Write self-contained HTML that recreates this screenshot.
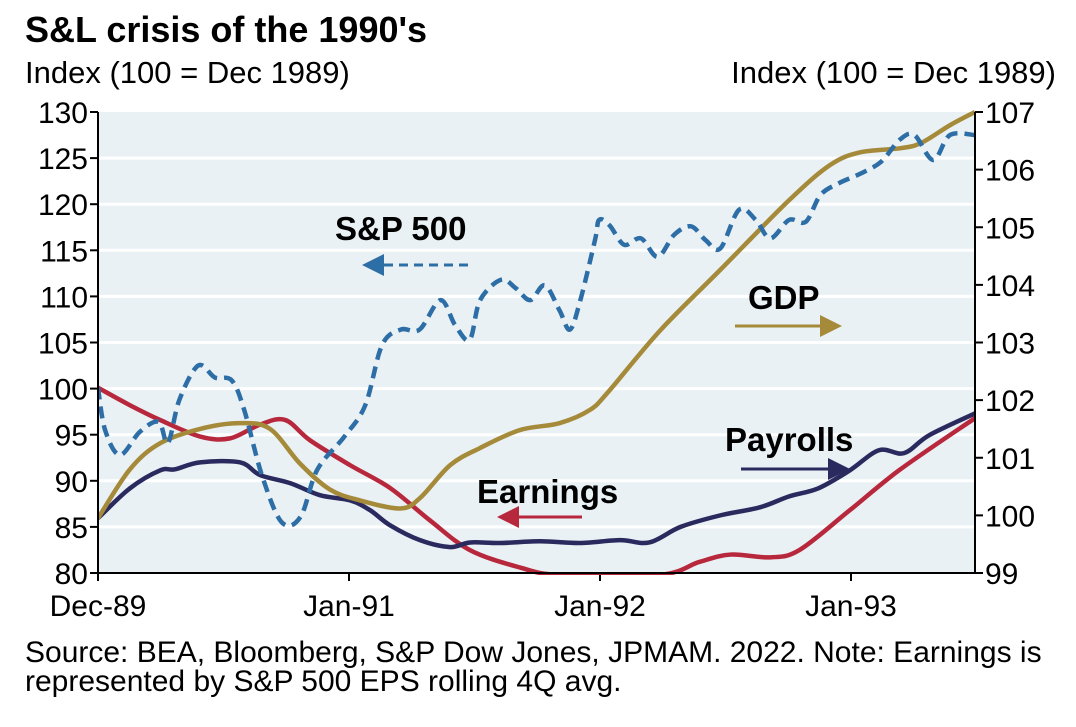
<!DOCTYPE html>
<html><head><meta charset="utf-8"><style>
body{margin:0;background:#fff;width:1076px;height:722px;overflow:hidden;font-family:"Liberation Sans",Arial,sans-serif}
svg text{font-family:"Liberation Sans",Arial,sans-serif}
</style></head><body>
<svg id="c" width="1076" height="722">
<text x="25" y="42" font-size="36" font-weight="bold">S&amp;L crisis of the 1990's</text>
<text x="25" y="83" font-size="31">Index (100 = Dec 1989)</text>
<text x="1056" y="83" font-size="31" text-anchor="end">Index (100 = Dec 1989)</text>
<text x="25" y="662" font-size="30">Source: BEA, Bloomberg, S&amp;P Dow Jones, JPMAM. 2022. Note: Earnings is</text>
<text x="25" y="691" font-size="30">represented by S&amp;P 500 EPS rolling 4Q avg.</text>
<defs><clipPath id="pc"><rect x="98" y="110" width="877" height="465"/></clipPath></defs>
<g id="plot"></g>
</svg>
<script>
const xTickMonths=[0,13,25,37];
const xTickLabels=["Dec-89","Jan-91","Jan-92","Jan-93"];
const leftTicks=[80,85,90,95,100,105,110,115,120,125,130];
const rightTicks=[99,100,101,102,103,104,105,106,107];
const spM=[0,0.34,1.05,2,2.9,3.35,3.9,4.8,5.6,6.4,7,7.85,8.8,9.7,10.5,11.8,12.8,13.6,14.5,15.4,16.4,17.1,17.8,18.3,19.3,20,20.7,21.4,22.1,22.6,23.1,23.8,24,24.5,25.2,26,26.8,27.6,28.4,29.1,29.8,30.7,31.5,32.2,33.1,33.9,34.6,35.5,36.5,37.5,38.4,39.1,40,40.8,42];
const spV=[100.1,95.5,92.8,95.3,96.4,94.1,98.8,102.5,101.2,100.9,97.7,90.6,85.5,86.1,91.2,94.8,98.2,104.7,106.4,106.4,109.6,106.9,105.3,109.6,111.8,110.9,109.6,111.2,108.5,106.4,109.6,116.1,118.3,117.7,115.6,116.3,114.3,116.7,117.6,116.1,115.2,119.4,118.3,116.3,118.3,118.1,121,122.3,123.3,124.6,127,127.5,124.8,127.5,127.5];
const gdpM=[0,1.53,2.97,4.89,6.8,8.24,9.67,11.1,12.55,14.46,15.42,16.86,18.3,20.2,22.1,23.56,24.5,26.9,29.8,33.1,35.06,36.5,38.4,39.4,40.8,42];
const gdpV=[99.95,100.8,101.25,101.5,101.6,101.5,100.9,100.45,100.26,100.12,100.3,100.87,101.17,101.48,101.6,101.83,102.17,103.2,104.26,105.47,106.08,106.3,106.37,106.46,106.77,107];
const payM=[0,1.53,2.97,3.69,4.89,6.8,7.76,9.2,10.63,12.07,13.03,13.98,15.42,16.86,17.82,19.25,21.17,23.08,25,26.4,27.9,29.8,31.7,33.1,34.5,36,37.4,38.6,39.8,42];
const payV=[99.95,100.47,100.78,100.8,100.92,100.92,100.7,100.56,100.35,100.26,100.09,99.83,99.57,99.45,99.53,99.52,99.55,99.52,99.57,99.53,99.8,100,100.14,100.33,100.47,100.78,101.13,101.08,101.39,101.77];
const earnM=[0,1.53,2.97,4.89,6.32,7.76,8.96,10.15,12.07,14,15.9,17.8,20.2,22.1,26.9,28.8,30.3,32.2,33.6,36,38.4,42];
const earnV=[100.1,98.2,96.6,94.8,94.6,96.1,96.6,94.4,91.7,89.2,85.7,82.5,80.6,79.8,79.8,81.2,82,81.7,82.5,86.8,91.2,96.8];

const L=98,R=975,T=112,B=573,NS="http://www.w3.org/2000/svg";
const x=m=>L+(m/42)*(R-L);
const yl=v=>B-(v-80)/50*(B-T);
const yr=v=>B-(v-99)/8*(B-T);
const g=document.getElementById('plot');
function el(t,a,p){const e=document.createElementNS(NS,t);for(const k in a)e.setAttribute(k,a[k]);(p||g).appendChild(e);return e;}
const bg=el('rect',{x:L,y:T,width:R-L,height:B-T,fill:'#e9f1f5'});


leftTicks.forEach(v=>{
 if(v>80&&v<130){const gl=el('line',{x1:L,x2:R,y1:yl(v),y2:yl(v),stroke:'#fff','stroke-width':3});
 
 }
 const tk=el('line',{x1:L-8,x2:L,y1:yl(v),y2:yl(v),stroke:'#000','stroke-width':2});
 
 
 const t=el('text',{x:L-10,y:yl(v)+11,'font-size':30,'text-anchor':'end'});t.textContent=v;
 
 
});
rightTicks.forEach(v=>{
 const tk=el('line',{x1:R,x2:R+8,y1:yr(v),y2:yr(v),stroke:'#000','stroke-width':2});
 
 
 const t=el('text',{x:R+10,y:yr(v)+11,'font-size':30});t.textContent=v;
 
 
});
xTickMonths.forEach((m,i)=>{
 const px=L+i*251;
 const tk=el('line',{x1:px,x2:px,y1:B,y2:B+8,stroke:'#000','stroke-width':2});
 
 
 const t=el('text',{x:px,y:B+43,'font-size':30,'text-anchor':'middle'});t.textContent=xTickLabels[i];
 
 
});
function path(ms,vs,yf){
 const p=ms.map((m,i)=>[x(m),yf(vs[i])]);
 let d='M'+p[0][0]+','+p[0][1];
 for(let i=0;i<p.length-1;i++){
  const p0=p[Math.max(0,i-1)],p1=p[i],p2=p[i+1],p3=p[Math.min(p.length-1,i+2)];
  const c1=[p1[0]+(p2[0]-p0[0])/6,p1[1]+(p2[1]-p0[1])/6],c2=[p2[0]-(p3[0]-p1[0])/6,p2[1]-(p3[1]-p1[1])/6];
  d+=`C${c1[0]},${c1[1]} ${c2[0]},${c2[1]} ${p2[0]},${p2[1]}`;
 }
 return d;
}
const pe=el('path',{d:path(earnM,earnV,yl),fill:'none',stroke:'#b8283c','stroke-width':4.5,'clip-path':'url(#pc)'});


const pp=el('path',{d:path(payM,payV,yr),fill:'none',stroke:'#2a2a5e','stroke-width':4.5,'clip-path':'url(#pc)'});


const pg=el('path',{d:path(gdpM,gdpV,yr),fill:'none',stroke:'#a58a3a','stroke-width':4.5,'clip-path':'url(#pc)'});


const ps=el('path',{d:path(spM,spV,yl),fill:'none',stroke:'#2e6ea6','stroke-width':4.5,'stroke-dasharray':'12,7','clip-path':'url(#pc)'});


const ax=el('path',{d:`M${L},${T} V${B} H${R} V${T}`,fill:'none',stroke:'#000','stroke-width':2});


function label(txt,tx,ty,x1,x2,ay,col,dash,name){
 const t=el('text',{x:tx,y:ty,'font-size':33,'font-weight':'bold'});t.textContent=txt;
 
 
 const dir=x2>x1?1:-1;
 const ln=el('line',{x1:x1,x2:x2-dir*18,y1:ay,y2:ay,stroke:col,'stroke-width':3,'stroke-dasharray':dash||'none'});
 
 
 const hd=el('polygon',{points:`${x2},${ay} ${x2-dir*22},${ay-11} ${x2-dir*22},${ay+11}`,fill:col});
 
 
}
label('S&P 500',335,240,468,362,265,'#2e6ea6','9,6','sp500');
label('GDP',748,309,735,842,326,'#a58a3a',null,'gdp');
label('Payrolls',725,451,741,850,469,'#2a2a5e',null,'payrolls');
label('Earnings',477,503,582,497,517,'#b8283c',null,'earnings');
</script>
</body></html>
